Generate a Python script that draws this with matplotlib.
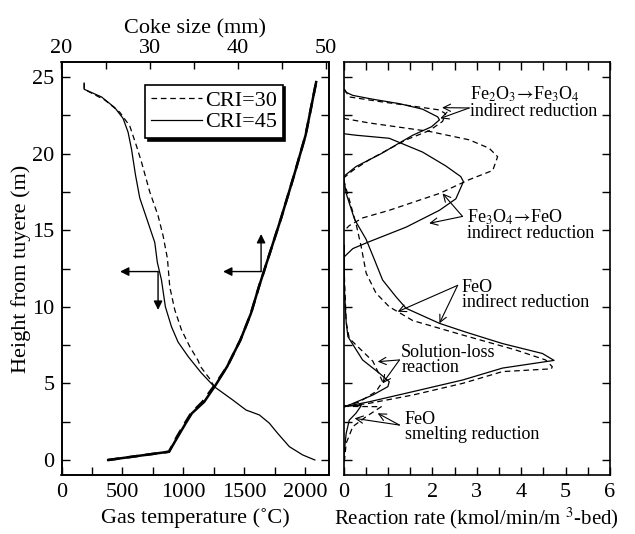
import matplotlib
matplotlib.use("Agg")
import matplotlib.pyplot as plt
from matplotlib.ticker import MultipleLocator

plt.rcParams['font.family'] = ['Liberation Serif', 'DejaVu Serif']
plt.rcParams['mathtext.fontset'] = 'stix'

# ---------------- data: left panel ----------------
# gas temperature (bottom axis, degC) vs height (m)
gas_h_45 = [24.6, 24.2, 23.7, 23.0, 22.3, 21.4, 20.3, 18.6, 17.1, 15.5, 14.2, 12.9, 11.75, 10.0, 8.7, 7.7,
            6.74, 5.7, 4.78, 3.92, 3.26, 2.94, 2.4, 1.74, 0.87, 0.33, 0.0]
gas_T_45 = [186, 186, 328, 437, 505, 546, 574, 607, 642, 710, 765, 786, 820, 852, 902, 956,
            1040, 1145, 1254, 1404, 1514, 1623, 1705, 1773, 1869, 1978, 2078]
gas_h_30 = [24.6, 24.2, 23.5, 22.7, 21.8, 20.5, 19.45, 17.5, 15.95, 14.65, 13.14, 11.3, 9.8, 8.5, 7.4,
            6.5, 6.1, 5.33, 4.78]
gas_T_30 = [186, 186, 355, 478, 560, 615, 656, 724, 792, 833, 869, 888, 929, 984, 1052,
            1120, 1140, 1213, 1254]

# coke size (top axis, mm) vs height (m)
coke_h = [0.0, 0.54, 1.52, 2.4, 3.05, 3.8, 4.9, 6.1, 7.83, 9.57, 11.3, 12.9, 15.75, 18.6, 21.2, 24.67]
coke_45 = [25.3, 32.2, 33.2, 34.1, 34.8, 36.2, 37.5, 38.8, 40.3, 41.5, 42.4, 43.3, 44.9, 46.4, 47.7, 48.9]
coke_30 = [25.3, 32.2, 33.1, 34.0, 34.7, 36.0, 37.4, 38.8, 40.3, 41.5, 42.4, 43.3, 44.9, 46.4, 47.7, 48.9]

# ---------------- data: right panel (rate, height) ----------------
fe2o3_45_x = [0.0, 0.0, 0.06, 0.21, 0.66, 1.26, 1.78, 2.12, 2.16, 1.98, 1.56, 1.26, 0.85, 0.28, 0.0]
fe2o3_45_y = [24.8, 24.25, 24.0, 23.8, 23.55, 23.26, 22.9, 22.4, 22.2, 21.75, 21.2, 20.7, 20.0, 19.15, 18.5]
fe2o3_30_x = [0.0, 0.02, 0.13, 0.81, 1.56, 2.16, 2.3, 2.23, 1.93, 1.41, 0.58, 0.21, 0.0]
fe2o3_30_y = [24.8, 24.2, 23.7, 23.4, 23.1, 22.85, 22.6, 22.1, 21.5, 20.9, 19.6, 18.9, 18.4]

fe3o4_45_x = [0.0, 0.28, 1.03, 1.78, 2.3, 2.64, 2.7, 2.53, 2.16, 1.41, 0.58, 0.21, 0.02, 0.0]
fe3o4_45_y = [21.3, 21.2, 21.0, 20.1, 19.2, 18.5, 18.17, 17.05, 16.3, 15.2, 14.25, 13.8, 13.27, 12.5]
fe3o4_30_x = [0.0, 0.58, 1.93, 2.83, 3.28, 3.47, 3.36, 2.83, 2.16, 1.03, 0.43, 0.13, 0.03]
fe3o4_30_y = [22.3, 22.0, 21.45, 20.9, 20.35, 19.8, 18.9, 18.3, 17.4, 16.3, 15.8, 15.3, 15.0]

feo_45_x = [0.0, 0.06, 0.25, 0.51, 0.70, 0.88, 1.18, 1.41, 2.16, 2.75, 3.58, 4.48, 4.74,
            3.58, 2.68, 1.56, 0.58, 0.02]
feo_45_y = [18.5, 17.4, 15.7, 14.4, 13.05, 11.75, 10.66, 9.9, 8.92, 8.35, 7.6, 6.95, 6.5,
            6.0, 5.22, 4.46, 3.8, 3.48]
feo_30_x = [0.0, 0.13, 0.28, 0.40, 0.51, 0.73, 1.03, 1.22, 1.56, 2.68, 3.88, 4.55, 4.7, 4.68,
            3.58, 2.68, 1.56, 0.58, 0.02]
feo_30_y = [18.3, 17.0, 15.45, 13.9, 12.2, 10.9, 10.0, 9.68, 9.1, 8.16, 7.18, 6.53, 6.09, 5.95,
            5.77, 5.0, 4.24, 3.7, 3.48]

sl_45_x = [0.02, 0.02, 0.06, 0.1, 0.43, 0.81, 1.03, 1.0, 0.66, 0.13, 0.02]
sl_45_y = [14.0, 11.2, 9.0, 8.05, 6.53, 5.66, 5.11, 4.79, 4.24, 3.59, 3.48]
sl_30_x = [0.02, 0.06, 0.13, 0.36, 0.66, 0.81, 0.88, 0.73, 0.36, 0.02]
sl_30_y = [12.0, 9.0, 7.94, 7.29, 6.45, 5.55, 5.11, 4.46, 3.8, 3.48]

sm_45_x = [0.0, 0.4, 0.28, 0.13, 0.06, 0.02, 0.0]
sm_45_y = [3.55, 3.55, 3.05, 2.6, 1.74, 0.6, -0.2]
sm_30_x = [0.0, 0.85, 0.51, 0.21, 0.06, 0.02]
sm_30_y = [3.5, 3.48, 2.83, 2.18, 1.09, -0.1]

# ---------------- figure ----------------
W, H = 635, 534
fig = plt.figure(figsize=(W / 100, H / 100), dpi=100)

def rect(x0, x1, ytop, ybot):
    return [x0 / W, 1 - ybot / H, (x1 - x0) / W, (ybot - ytop) / H]

axL = fig.add_axes(rect(61.5, 328.5, 62, 475))
axR = fig.add_axes(rect(343.5, 610, 62, 475))
axT = axL.twiny()

FS = 16
DASH = (0, (4.5, 3))

# left panel lines
axL.plot(gas_T_30, gas_h_30, color='k', lw=0.9, ls=DASH, label='CRI=30')
axL.plot(gas_T_45, gas_h_45, color='k', lw=0.9, ls='-', label='CRI=45')
axT.plot(coke_30, coke_h, color='k', lw=1.8, ls=DASH)
axT.plot(coke_45, coke_h, color='k', lw=1.8, ls='-')

axL.set_xlim(0, 2190)
axT.set_xlim(20, 50.3)
axL.set_ylim(-0.98, 25.98)

# arrows in left panel
ap = dict(arrowstyle='-|>', color='k', lw=1.0, mutation_scale=13, shrinkA=0, shrinkB=0)
axL.annotate('', xy=(480, 12.3), xytext=(792, 12.3), arrowprops=ap)
axL.annotate('', xy=(792, 9.8), xytext=(792, 12.3), arrowprops=ap)
axL.annotate('', xy=(1325, 12.3), xytext=(1637, 12.3), arrowprops=ap)
axL.annotate('', xy=(1637, 14.75), xytext=(1637, 12.3), arrowprops=ap)

leg = axL.legend(loc='upper left', bbox_to_anchor=(0.313, 0.945), fontsize=FS, frameon=True,
                 fancybox=False, edgecolor='k', framealpha=1, handlelength=2.3,
                 handletextpad=0.15, borderpad=0.25, labelspacing=0.05, borderaxespad=0,
                 shadow={'color': 'black', 'alpha': 1})
leg.get_frame().set_linewidth(1.2)

# right panel lines
for xs, ys, ls in [(fe2o3_30_x, fe2o3_30_y, DASH), (fe2o3_45_x, fe2o3_45_y, '-'),
                   (fe3o4_30_x, fe3o4_30_y, DASH), (fe3o4_45_x, fe3o4_45_y, '-'),
                   (feo_30_x, feo_30_y, DASH), (feo_45_x, feo_45_y, '-'),
                   (sl_30_x, sl_30_y, DASH), (sl_45_x, sl_45_y, '-'),
                   (sm_30_x, sm_30_y, DASH), (sm_45_x, sm_45_y, '-')]:
    axR.plot(xs, ys, color='k', lw=0.9, ls=ls)

axR.set_xlim(0, 6)
axR.set_ylim(-0.98, 25.98)

# annotations in right panel
AFS = 13
aap = dict(arrowstyle='->', color='k', lw=0.8, shrinkA=0, shrinkB=0, mutation_scale=13)
axR.text(2.85, 23.35, 'Fe$_2$O$_3$$\\!\\rightarrow\\!$Fe$_3$O$_4$\nindirect reduction', fontsize=AFS,
         va='center', ha='left', linespacing=0.85)
axR.annotate('', xy=(2.22, 23.0), xytext=(2.83, 22.98), arrowprops=aap)
axR.annotate('', xy=(2.18, 22.3), xytext=(2.83, 22.98), arrowprops=aap)

axR.text(2.78, 15.35, 'Fe$_3$O$_4$$\\!\\rightarrow\\!$FeO\nindirect reduction', fontsize=AFS,
         va='center', ha='left', linespacing=0.85)
axR.annotate('', xy=(2.23, 17.4), xytext=(2.68, 15.9), arrowprops=aap)
axR.annotate('', xy=(1.93, 15.45), xytext=(2.68, 15.9), arrowprops=aap)

axR.text(2.66, 10.8, 'FeO\nindirect reduction', fontsize=AFS, va='center', ha='left', linespacing=0.85)
axR.annotate('', xy=(1.22, 9.68), xytext=(2.57, 11.4), arrowprops=aap)
axR.annotate('', xy=(2.16, 8.92), xytext=(2.57, 11.4), arrowprops=aap)

axR.text(1.30, 6.55, 'Solution-loss\nreaction', fontsize=AFS, va='center', ha='left', linespacing=0.85)
axR.annotate('', xy=(0.77, 6.42), xytext=(1.26, 6.53), arrowprops=aap)
axR.annotate('', xy=(0.88, 5.0), xytext=(1.26, 6.53), arrowprops=aap)

axR.text(1.38, 2.15, 'FeO\nsmelting reduction', fontsize=AFS, va='center', ha='left', linespacing=0.85)
axR.annotate('', xy=(0.77, 3.05), xytext=(1.26, 2.28), arrowprops=aap)
axR.annotate('', xy=(0.25, 2.72), xytext=(1.26, 2.28), arrowprops=aap)

# ticks & labels
for ax in (axL, axR, axT):
    for s in ax.spines.values():
        s.set_linewidth(1.2)

axL.xaxis.set_major_locator(MultipleLocator(500))
axL.xaxis.set_minor_locator(MultipleLocator(250))
axT.xaxis.set_major_locator(MultipleLocator(10))
axT.xaxis.set_minor_locator(MultipleLocator(5))
for ax in (axL, axR):
    ax.yaxis.set_major_locator(MultipleLocator(5))
    ax.yaxis.set_minor_locator(MultipleLocator(2.5))
axR.xaxis.set_major_locator(MultipleLocator(1))
axR.xaxis.set_minor_locator(MultipleLocator(0.5))

axL.tick_params(axis='both', which='both', direction='in', length=6, width=1.0, labelsize=FS)
axL.tick_params(axis='x', which='both', top=False, pad=6)
axL.tick_params(axis='y', which='both', left=True, right=True, pad=5)
axT.tick_params(axis='x', which='both', direction='in', length=5, width=1.0, labelsize=FS, pad=3)
axR.tick_params(axis='both', which='both', direction='in', length=6, width=1.0, labelsize=FS,
                top=True, bottom=True, left=True, right=True, labelleft=False)
axR.tick_params(axis='x', pad=6)

axL.set_xlabel('Gas temperature (\u02daC)', fontsize=FS, labelpad=4)
axT.set_xlabel('Coke size (mm)', fontsize=FS, labelpad=4)
axL.set_ylabel('Height from tuyere (m)', fontsize=FS, labelpad=1)
axR.set_xlabel('Reaction rate (kmol/min/m $^{3}$-bed)', fontsize=15, labelpad=2)

fig.savefig('out.png', dpi=100)
